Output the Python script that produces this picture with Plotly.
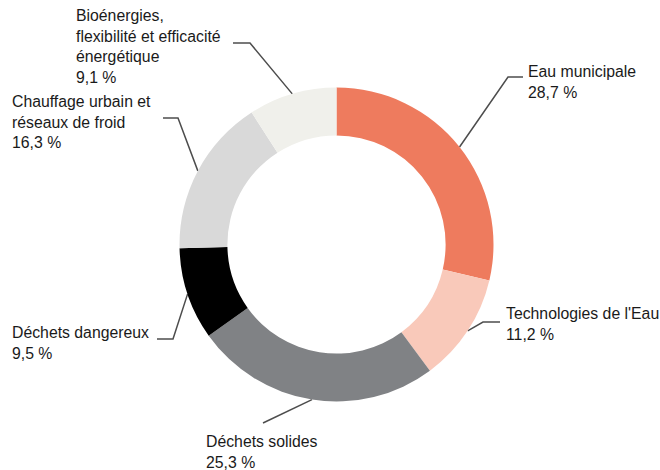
import math
import plotly.graph_objects as go

# ---- data ----
labels = ["Eau municipale", "Technologies de l'Eau", "Déchets solides",
          "Déchets dangereux", "Chauffage urbain et réseaux de froid",
          "Bioénergies, flexibilité et efficacité énergétique"]
label_text = ["Eau municipale", "Technologies de l'Eau", "Déchets solides",
              "Déchets dangereux", "Chauffage urbain et<br>réseaux de froid",
              "Bioénergies,<br>flexibilité et efficacité<br>énergétique"]
values = [28.7, 11.2, 25.3, 9.5, 16.3, 9.1]
value_text = ["28,7 %", "11,2 %", "25,3 %", "9,5 %", "16,3 %", "9,1 %"]

colors = ["#EE7B5E", "#F9C9BA", "#808285", "#000000", "#D9D9D9", "#F0F0EB"]

# ---- layout geometry (reference pixels, y down) ----
W, H = 660, 470
CX, CY, R = 336.5, 244.5, 157
HOLE = 0.695

leader = [
    dict(elbow=(508, 77), end=(523, 77), tx=526, ty=82),
    dict(elbow=(483, 322), end=(500, 322), tx=504, ty=324),
    dict(elbow=(263, 423), end=None, tx=204, ty=452),
    dict(elbow=(173, 339), end=(157, 339), tx=10, ty=343),
    dict(elbow=(178, 118), end=(163, 118), tx=10, ty=122),
    dict(elbow=(250, 43), end=(233, 43), tx=74, ty=46),
]

fig = go.Figure()

fig.add_trace(go.Pie(
    labels=labels, values=values, sort=False, direction="clockwise",
    rotation=0, hole=HOLE, textinfo="none", hoverinfo="label+percent",
    marker=dict(colors=colors, line=dict(width=0)),
    domain=dict(x=[(CX - R) / W, (CX + R) / W],
                y=[(H - CY - R) / H, (H - CY + R) / H]),
    showlegend=False,
))

total = sum(values)
cum = 0.0
annotations = []
for i, v in enumerate(values):
    mid = (cum + v / 2) / total * 2 * math.pi
    cum += v
    sx = CX + R * math.sin(mid)
    sy = CY - R * math.cos(mid)
    L = leader[i]
    xs = [sx, L["elbow"][0]]
    ys = [sy, L["elbow"][1]]
    if L["end"] is not None:
        xs.append(L["end"][0])
        ys.append(L["end"][1])
    fig.add_trace(go.Scatter(x=xs, y=ys, mode="lines",
                             line=dict(color="#4D4D4D", width=1.5),
                             hoverinfo="skip", showlegend=False))
    annotations.append(dict(
        x=L["tx"], y=L["ty"], xref="x", yref="y",
        text=label_text[i] + "<br>" + value_text[i],
        showarrow=False, xanchor="left", yanchor="middle", align="left",
        font=dict(family="Liberation Sans, Arial, sans-serif", size=15.8,
                  color="#1A1A1A"),
    ))

fig.update_layout(
    width=W, height=H,
    margin=dict(l=0, r=0, t=0, b=0),
    paper_bgcolor="white", plot_bgcolor="rgba(0,0,0,0)",
    xaxis=dict(range=[0, W], visible=False, fixedrange=True, domain=[0, 1]),
    yaxis=dict(range=[H, 0], visible=False, fixedrange=True, domain=[0, 1]),
    annotations=annotations,
)

fig.write_html("out.html",
               config={"displayModeBar": False},
               post_script="document.body.style.margin='0';"
                           "document.body.style.overflow='hidden';")
